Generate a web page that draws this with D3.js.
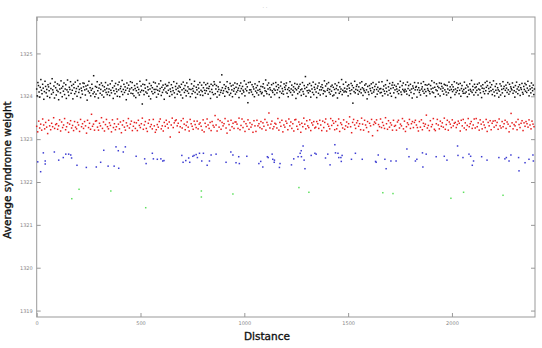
<!DOCTYPE html>
<html>
<head>
<meta charset="utf-8">
<script src="https://cdnjs.cloudflare.com/ajax/libs/d3/7.8.5/d3.min.js"></script>
<style>
  body { margin: 0; background: #fff; }
  svg { display: block; }
  .tick text { font-family: "DejaVu Sans", sans-serif; font-size: 5px; fill: #888; }
  .tick line { stroke: #999; }
  .axis-title { font-family: "DejaVu Sans", sans-serif; font-size: 10.5px; fill: #111; stroke: #111; stroke-width: 0.35px; }
</style>
</head>
<body>
<div id="vis"></div>
<script>
// axis ticks
const distanceTicks = [0, 500, 1000, 1500, 2000];
const weightTicks = [1319, 1320, 1321, 1322, 1323, 1324, 1325];

// black band: weight = 1323.70 + v/100, sampled evenly along distance
const blackWeights = (
  '47 31 62 55 40 28 51 69 44 36 58 49 23 41 65 53 38 46 30 57 ' +
  '52 43 27 60 48 35 71 45 39 54 26 63 50 33 44 59 41 22 56 47 ' +
  '38 66 49 29 53 42 61 34 47 57 25 45 68 40 32 51 46 64 37 55 ' +
  '44 24 58 50 36 63 41 48 30 67 53 39 46 59 27 49 43 35 61 52 ' +
  '60 45 33 54 47 21 56 42 65 38 50 31 44 58 48 36 78 40 29 53 ' +
  '35 51 64 43 26 49 57 37 46 61 33 55 42 28 52 45 62 39 48 34 ' +
  '56 40 47 32 59 44 38 66 50 25 43 54 36 60 47 41 30 57 45 63 ' +
  '29 48 53 41 67 34 46 58 39 52 44 22 61 49 35 56 42 47 64 37 ' +
  '50 62 36 45 31 55 48 27 43 59 51 38 46 33 65 40 54 44 12 58 ' +
  '43 34 57 49 40 68 37 52 45 30 60 47 24 55 41 50 36 63 46 39 ' +
  '61 46 28 53 44 35 59 42 48 66 32 51 39 56 45 23 49 58 40 54 ' +
  '37 55 44 62 30 47 41 57 34 50 43 64 38 27 53 46 60 35 49 42 ' +
  '54 40 51 33 58 45 26 63 48 39 55 44 31 61 42 52 37 47 69 29 ' +
  '46 59 36 48 42 54 65 39 27 51 45 35 57 49 40 62 33 44 56 41 ' +
  '32 50 62 44 37 57 43 49 60 35 48 53 41 25 58 46 39 55 34 64 ' +
  '58 36 47 55 28 41 52 46 33 63 39 44 80 50 37 43 57 30 48 53 ' +
  '41 64 39 50 46 33 60 37 54 45 29 56 42 48 61 35 51 40 59 44 ' +
  '49 27 55 42 61 48 36 53 44 40 66 31 47 58 43 52 15 62 38 45 ' +
  '63 45 40 57 34 52 47 29 59 42 50 38 55 44 33 64 46 41 53 36 ' +
  '39 52 59 31 49 43 68 41 36 56 47 61 34 50 45 28 57 43 39 60 ' +
  '47 34 44 62 53 38 45 57 50 27 41 54 63 37 48 42 35 59 51 46 ' +
  '55 61 37 46 29 50 43 64 39 47 56 33 44 52 40 60 48 25 45 58 ' +
  '36 49 53 40 58 45 32 47 62 41 35 55 48 76 30 51 43 57 38 44 ' +
  '60 42 28 55 47 39 63 34 51 46 58 40 27 49 54 37 61 45 33 52 ' +
  '45 57 50 36 43 66 41 54 30 59 44 48 62 39 46 35 53 42 56 31 ' +
  '51 33 46 59 38 48 55 26 45 62 37 52 41 47 69 34 44 58 40 49 ' +
  '42 63 40 47 54 31 57 49 43 36 60 45 55 14 50 41 65 38 46 53 ' +
  '57 44 35 52 41 61 46 38 64 50 32 47 43 56 39 59 45 24 53 40 ' +
  '34 55 48 43 59 37 50 62 40 45 53 29 58 46 35 51 42 63 47 38 ' +
  '48 39 64 31 46 54 42 36 57 49 41 67 33 52 44 60 37 48 30 56 ' +
  '62 50 38 56 45 27 53 47 41 59 36 44 51 65 40 34 55 46 61 43 ' +
  '40 46 57 42 35 63 48 55 32 44 58 39 47 26 54 49 36 62 45 51 ' +
  '53 28 45 61 50 39 44 33 60 47 52 42 64 37 46 57 41 31 56 48 ' +
  '44 58 41 36 55 47 66 40 49 38 62 51 29 45 59 43 53 35 50 61 ' +
  '31 47 60 53 42 49 35 58 45 56 40 33 55 47 38 63 44 52 27 46 ' +
  '57 41 52 45 64 34 47 39 61 43 50 58 36 44 60 30 48 55 42 37 ' +
  '46 63 37 49 40 56 29 52 44 35 59 46 42 67 39 53 45 33 58 50 ' +
  '39 52 44 58 33 47 61 45 38 54 27 49 57 41 48 36 62 43 51 65 ' +
  '55 36 48 41 62 51 43 57 34 46 66 40 31 53 44 59 37 50 45 28 ' +
  '42 59 33 54 46 38 64 48 53 30 44 56 49 39 62 45 35 58 41 52 ' +
  '48 45 61 37 51 43 28 55 40 63 47 36 52 44 57 32 50 46 60 39 ' +
  '35 53 46 60 42 57 39 49 65 44 31 54 47 38 61 50 43 56 34 47'
).split(' ').map(v => 1323.7 + (+v) / 100);

// red band: weight = 1323.00 + v/100
const redWeights = (
  '30 17 42 26 35 21 47 33 24 39 28 13 44 31 22 37 29 50 25 34 ' +
  '36 23 31 45 19 40 27 33 48 22 29 38 16 35 43 26 32 20 41 28 ' +
  '24 39 33 18 46 29 36 25 41 31 14 44 27 37 23 58 30 35 21 42 ' +
  '43 28 21 37 31 50 25 40 19 34 46 29 24 38 32 17 45 27 36 22 ' +
  '29 47 35 24 40 15 33 43 28 21 38 31 48 26 35 42 20 30 39 25 ' +
  '38 20 44 32 27 36 49 23 33 41 25 18 37 45 29 34 24 46 31 16 ' +
  '22 34 28 41 47 24 31 19 39 30 44 35 26 40 5 33 49 27 38 43 ' +
  '45 31 37 16 29 43 26 48 35 22 32 40 28 19 46 36 30 23 42 34 ' +
  '27 42 24 35 38 30 21 45 17 37 29 47 33 25 39 20 41 32 28 55 ' +
  '33 19 46 28 43 23 39 31 36 48 26 14 42 34 21 44 29 37 25 40 ' +
  '40 35 25 49 22 32 47 27 41 18 36 30 45 23 38 28 34 16 43 31 ' +
  '18 44 31 36 27 41 24 38 30 46 21 39 33 61 26 35 42 24 29 37 ' +
  '35 26 48 21 39 30 44 17 33 28 42 37 22 47 31 40 25 36 19 45 ' +
  '46 30 23 40 34 16 37 29 49 35 24 43 31 27 45 20 38 33 41 26 ' +
  '28 41 36 25 44 33 20 42 27 39 47 19 35 30 24 48 32 43 37 22 ' +
  '41 24 32 47 18 38 34 26 45 23 31 40 28 36 52 29 15 39 46 33 ' +
  '25 38 43 30 36 22 49 35 21 44 33 27 41 17 37 31 46 8 34 40 ' +
  '37 45 20 34 29 47 27 39 32 25 50 36 23 43 28 38 33 21 44 30 ' +
  '32 21 40 44 26 35 31 48 24 42 18 29 38 34 46 25 36 41 27 39 ' +
  '44 33 27 19 41 28 45 22 37 30 35 56 26 32 20 43 29 34 48 23 ' +
  '20 36 46 33 24 42 30 38 28 49 23 34 44 21 40 35 27 45 31 37 ' +
  '39 27 34 42 37 19 44 31 46 26 38 22 32 48 29 36 41 25 33 47 ' +
  '26 48 29 38 21 45 35 24 40 33 27 46 18 39 31 43 22 37 42 28 ' +
  '43 32 39 23 47 31 26 41 29 36 44 25 40 35 17 30 60 38 24 34 ' +
  '31 40 22 46 34 27 37 43 20 38 30 41 36 28 45 33 24 42 35 29'
).split(' ').map(v => 1323 + (+v) / 100);

// blue points, read one by one
const blueDistances = [5, 19, 32, 41, 41, 85, 106, 128, 140, 154, 164, 168, 194, 239, 287, 308, 323, 344, 373, 382,
  393, 395, 417, 427, 479, 520, 527, 557, 562, 581, 598, 607, 613, 699, 705, 718, 732, 737, 752, 758,
  768, 774, 784, 795, 803, 821, 832, 840, 864, 912, 935, 945, 960, 973, 976, 1012, 1070, 1079, 1089, 1111,
  1115, 1134, 1137, 1144, 1145, 1169, 1172, 1227, 1238, 1259, 1269, 1274, 1275, 1283, 1288, 1292, 1322, 1340, 1346, 1391,
  1402, 1413, 1436, 1439, 1451, 1455, 1465, 1467, 1471, 1516, 1535, 1568, 1632, 1635, 1645, 1677, 1683, 1706, 1731, 1783,
  1793, 1824, 1831, 1858, 1860, 1876, 1924, 1963, 1976, 2027, 2029, 2053, 2082, 2090, 2098, 2104, 2143, 2169, 2226, 2255,
  2262, 2275, 2284, 2321, 2323, 2352, 2371, 2390, 2392];
const blueWeights = [1322.47, 1322.24, 1322.68, 1322.49, 1322.42, 1322.70, 1322.51, 1322.57, 1322.65, 1322.65, 1322.63, 1322.56, 1322.39, 1322.34, 1322.35, 1322.46, 1322.74, 1322.37, 1322.37, 1322.82,
  1322.73, 1322.32, 1322.70, 1322.82, 1322.60, 1322.54, 1322.43, 1322.67, 1322.54, 1322.53, 1322.54, 1322.49, 1322.50, 1322.62, 1322.46, 1322.50, 1322.56, 1322.46, 1322.60, 1322.62,
  1322.64, 1322.57, 1322.67, 1322.49, 1322.67, 1322.39, 1322.49, 1322.63, 1322.65, 1322.46, 1322.70, 1322.63, 1322.45, 1322.59, 1322.43, 1322.60, 1322.43, 1322.48, 1322.35, 1322.59,
  1322.57, 1322.65, 1322.53, 1322.46, 1322.51, 1322.34, 1322.43, 1322.40, 1322.54, 1322.59, 1322.67, 1322.73, 1322.59, 1322.84, 1322.51, 1322.31, 1322.62, 1322.67, 1322.65, 1322.56,
  1322.65, 1322.40, 1322.87, 1322.68, 1322.67, 1322.57, 1322.57, 1322.48, 1322.62, 1322.53, 1322.67, 1322.53, 1322.48, 1322.46, 1322.63, 1322.53, 1322.31, 1322.49, 1322.49, 1322.77,
  1322.59, 1322.49, 1322.53, 1322.68, 1322.35, 1322.65, 1322.59, 1322.60, 1322.51, 1322.84, 1322.62, 1322.57, 1322.65, 1322.60, 1322.39, 1322.49, 1322.59, 1322.51, 1322.57, 1322.54,
  1322.57, 1322.49, 1322.63, 1322.57, 1322.26, 1322.45, 1322.53, 1322.63, 1322.49];

const greenDistances = [169, 204, 357, 525, 793, 793, 945, 1263, 1311, 1667, 1716, 1995, 2056, 2246];
const greenWeights = [1321.61, 1321.83, 1321.79, 1321.40, 1321.79, 1321.65, 1321.72, 1321.87, 1321.76, 1321.75, 1321.73, 1321.62, 1321.76, 1321.69];

const width = 542;
const height = 348;
const margin = { top: 17, right: 7, bottom: 31, left: 36.7 };

const svg = d3.select('#vis').append('svg')
  .attr('width', width)
  .attr('height', height);

const x = d3.scaleLinear().domain([0, 2400]).range([margin.left, width - margin.right]);
const y = d3.scaleLinear().domain([1318.85, 1325.85]).range([height - margin.bottom, margin.top]);

// tiny title at the top
svg.append('text')
  .attr('x', 265).attr('y', 8)
  .attr('text-anchor', 'middle')
  .attr('font-family', 'DejaVu Sans, sans-serif')
  .attr('font-size', 5)
  .attr('fill', '#aaa')
  .text('. .');

// ticks on all four sides, pointing inwards
svg.append('g')
  .attr('transform', `translate(0,${y.range()[0]})`)
  .call(d3.axisBottom(x).tickValues(distanceTicks).tickSize(-4).tickPadding(4).tickFormat(d3.format('d')))
  .call(g => g.select('.domain').remove());
svg.append('g')
  .attr('transform', `translate(0,${y.range()[1]})`)
  .call(d3.axisTop(x).tickValues(distanceTicks).tickSize(-4).tickFormat(''))
  .call(g => g.select('.domain').remove());
svg.append('g')
  .attr('transform', `translate(${x.range()[0]},0)`)
  .call(d3.axisLeft(y).tickValues(weightTicks).tickSize(-4).tickPadding(4).tickFormat(d3.format('d')))
  .call(g => g.select('.domain').remove());
svg.append('g')
  .attr('transform', `translate(${x.range()[1]},0)`)
  .call(d3.axisRight(y).tickValues(weightTicks).tickSize(-4).tickFormat(''))
  .call(g => g.select('.domain').remove());

svg.append('rect')
  .attr('x', x.range()[0])
  .attr('y', y.range()[1])
  .attr('width', x.range()[1] - x.range()[0])
  .attr('height', y.range()[0] - y.range()[1])
  .attr('fill', 'none')
  .attr('stroke', '#999')
  .attr('stroke-width', 1);

function drawDots(distances, weights, color) {
  svg.append('g')
    .selectAll('rect')
    .data(weights)
    .join('rect')
    .attr('x', (d, i) => x(distances[i]) - 0.75)
    .attr('y', d => y(d) - 0.75)
    .attr('width', 1.5)
    .attr('height', 1.5)
    .attr('fill', color);
}

// dense bands are sampled evenly along the whole distance range
const blackDistances = blackWeights.map((d, i) => i * 2400 / blackWeights.length);
const redDistances = redWeights.map((d, i) => i * 2400 / redWeights.length);

drawDots(blackDistances, blackWeights, '#111');
drawDots(redDistances, redWeights, '#e61e1e');
drawDots(blueDistances, blueWeights, '#3c3cd2');
drawDots(greenDistances, greenWeights, '#5ee05e');

// axis titles
svg.append('text')
  .attr('class', 'axis-title')
  .attr('x', 267)
  .attr('y', 340)
  .attr('text-anchor', 'middle')
  .text('Distance');

svg.append('text')
  .attr('class', 'axis-title')
  .attr('transform', 'translate(11,170) rotate(-90)')
  .attr('text-anchor', 'middle')
  .text('Average syndrome weight');
</script>
</body>
</html>
